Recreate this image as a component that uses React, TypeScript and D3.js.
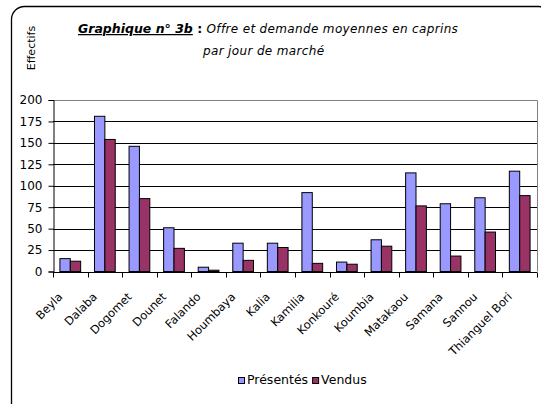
import { useEffect, useRef } from 'react';
import * as d3 from 'd3';

const marches = [
  'Beyla', 'Dalaba', 'Dogomet', 'Dounet', 'Falando', 'Houmbaya', 'Kalia',
  'Kamilia', 'Konkouré', 'Koumbia', 'Matakaou', 'Samana', 'Sannou', 'Thianguel Bori',
];
const presentes = [15, 181, 146, 51, 5, 33, 33, 92, 11, 37, 115, 79, 86, 117];
const vendus = [12, 154, 85, 27, 1.5, 13, 28, 9.5, 8.5, 29.5, 76.5, 18, 46, 88.5];
const yTicks = [0, 25, 50, 75, 100, 125, 150, 175, 200];
const seriesNames = ['Présentés', 'Vendus'];
const colors = ['#9999FF', '#993366'];

const font = '"DejaVu Sans", sans-serif';

export default function App() {
  const svgRef = useRef<SVGSVGElement>(null);

  useEffect(() => {
    const width = 541;
    const height = 404;
    const plot = { left: 53, right: 537, top: 100, bottom: 271.5 };

    const svg = d3.select(svgRef.current)
      .attr('width', width)
      .attr('height', height);
    svg.selectAll('*').remove();

    // cadre arrondi
    svg.append('rect')
      .attr('x', 11.5).attr('y', 6.5)
      .attr('width', 540).attr('height', 410)
      .attr('rx', 13)
      .attr('fill', '#fff')
      .attr('stroke', '#000')
      .attr('stroke-width', 1.3);

    const x = d3.scaleBand()
      .domain(marches)
      .range([plot.left, plot.right])
      .paddingInner(0.4)
      .paddingOuter(0.2);
    const xs = d3.scaleBand()
      .domain(seriesNames)
      .range([0, x.bandwidth()]);
    const y = d3.scaleLinear().domain([0, 200]).range([plot.bottom, plot.top]);

    // bord du plot
    svg.append('path')
      .attr('d', `M${plot.left},${plot.top + 0.5}H${plot.right + 0.5}V${plot.bottom}`)
      .attr('fill', 'none')
      .attr('stroke', '#808080');

    // grille
    svg.append('g')
      .selectAll('line')
      .data(yTicks.filter(d => d > 0))
      .join('line')
      .attr('x1', plot.left)
      .attr('x2', plot.right)
      .attr('y1', d => Math.round(y(d)) + 0.5)
      .attr('y2', d => Math.round(y(d)) + 0.5)
      .attr('stroke', d => (d === 200 ? '#808080' : '#000'))
      .attr('stroke-width', 1);

    // barres
    const series = [presentes, vendus];
    series.forEach((vals, si) => {
      svg.append('g')
        .selectAll('rect')
        .data(vals)
        .join('rect')
        .attr('x', (_, i) => (x(marches[i]) ?? 0) + (xs(seriesNames[si]) ?? 0))
        .attr('y', d => y(d))
        .attr('width', xs.bandwidth())
        .attr('height', d => y(0) - y(d))
        .attr('fill', colors[si])
        .attr('stroke', '#000')
        .attr('stroke-width', 1);
    });

    // axe Y
    const gy = svg.append('g')
      .attr('transform', `translate(${plot.left + 0.5},0)`)
      .call(d3.axisLeft(y).tickValues(yTicks).tickSize(5).tickPadding(6));
    gy.select('.domain').attr('stroke', '#000');
    gy.selectAll('line').attr('stroke', '#000');
    gy.selectAll('text')
      .attr('font-family', font)
      .attr('font-size', 12)
      .attr('fill', '#000');

    // axe X
    const gx = svg.append('g')
      .attr('transform', `translate(0,${Math.round(plot.bottom) + 0.5})`);
    gx.append('line')
      .attr('x1', plot.left).attr('x2', plot.right)
      .attr('stroke', '#000');
    const step = x.step();
    gx.selectAll('line.tick')
      .data(d3.range(marches.length + 1))
      .join('line')
      .attr('class', 'tick')
      .attr('x1', i => Math.round(plot.left + i * step) + 0.5)
      .attr('x2', i => Math.round(plot.left + i * step) + 0.5)
      .attr('y1', 0).attr('y2', 5)
      .attr('stroke', '#000');
    gx.selectAll('text')
      .data(marches)
      .join('text')
      .attr('transform', d => `translate(${(x(d) ?? 0) + x.bandwidth() / 2 - 7},${25}) rotate(-45)`)
      .attr('text-anchor', 'end')
      .attr('font-family', font)
      .attr('font-size', 11.5)
      .text(d => d);

    // titre
    const title = svg.append('text')
      .attr('x', 78).attr('y', 33)
      .attr('font-family', font)
      .attr('font-size', 12.5);
    title.append('tspan')
      .attr('font-weight', 'bold')
      .attr('font-style', 'italic')
      .attr('text-decoration', 'underline')
      .text('Graphique n° 3b');
    title.append('tspan')
      .attr('font-weight', 'bold')
      .text(' : ');
    title.append('tspan')
      .attr('font-style', 'italic')
      .attr('font-size', 12)
      .attr('letter-spacing', 0.35)
      .text('Offre et demande moyennes en caprins');
    svg.append('text')
      .attr('x', 203).attr('y', 55)
      .attr('font-family', font)
      .attr('font-style', 'italic')
      .attr('font-size', 12)
      .attr('letter-spacing', 0.35)
      .text('par jour de marché');

    svg.append('text')
      .attr('transform', 'translate(35,48) rotate(-90)')
      .attr('text-anchor', 'middle')
      .attr('font-family', font)
      .attr('font-size', 11)
      .text('Effectifs');

    // légende
    const legend = svg.append('g').attr('transform', 'translate(238,377)');
    let lx = 0;
    seriesNames.forEach((name, i) => {
      legend.append('rect')
        .attr('x', lx + 0.5).attr('y', 0.5)
        .attr('width', 6).attr('height', 6)
        .attr('fill', colors[i])
        .attr('stroke', '#000');
      const t = legend.append('text')
        .attr('x', lx + 9).attr('y', 7)
        .attr('font-family', font)
        .attr('font-size', 12.5)
        .text(name);
      lx += 9 + (t.node() as SVGTextElement).getComputedTextLength() + 4;
    });
  }, []);

  return (
    <div style={{ position: 'absolute', left: 0, top: 0 }}>
      <svg ref={svgRef} style={{ display: 'block' }}></svg>
    </div>
  );
}
